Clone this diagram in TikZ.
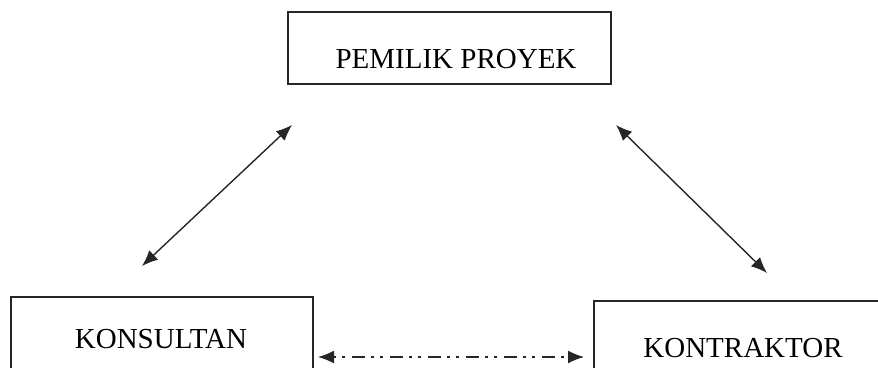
\documentclass[tikz,border=0pt]{standalone}
\usepackage{fontspec}
\setmainfont{Liberation Serif}
\usetikzlibrary{arrows.meta}
\begin{document}
\begin{tikzpicture}[x=1pt, y=-1pt,
  box/.style={draw=black!85, line width=1.3pt, rectangle, inner sep=0pt},
  lbl/.style={anchor=base, inner sep=0pt, font=\fontsize{29}{34}\selectfont},
  tip/.style={Latex[length=16pt,width=13pt]},
  link/.style={line width=1.4pt, draw=black!85, {Latex[length=16pt,width=13pt]}-{Latex[length=16pt,width=13pt]}},
  dashlink/.style={link, dash pattern=on 3pt off 6pt on 3pt off 7pt on 13pt off 6pt}]
\useasboundingbox (0,0) rectangle (878,367);
\begin{scope}
\clip (0,0) rectangle (878,367);
% boxes
\node[box, minimum width=323pt, minimum height=72pt] (owner) at (449.5,48) {};
\node[box, minimum width=302pt, minimum height=100pt] (consultant) at (162,347) {};
\node[box, minimum width=302pt, minimum height=100pt] (contractor) at (745,351) {};
\end{scope}
% labels
\node[lbl] (ownerText) at (456,68) {PEMILIK PROYEK};
\node[lbl] (consultantText) at (161,348) {KONSULTAN};
\node[lbl] (contractorText) at (743,357) {KONTRAKTOR};
% connector ends
\coordinate (l1) at (292,125);
\coordinate (l2) at (142,266);
\coordinate (r1) at (616,125);
\coordinate (r2) at (767,273);
\coordinate (d1) at (318,357);
\coordinate (d2) at (584,357);
\draw[link] (l1) -- (l2);
\draw[link] (r1) -- (r2);
\draw[dashlink] (d1) -- (d2);
\end{tikzpicture}
\end{document}
